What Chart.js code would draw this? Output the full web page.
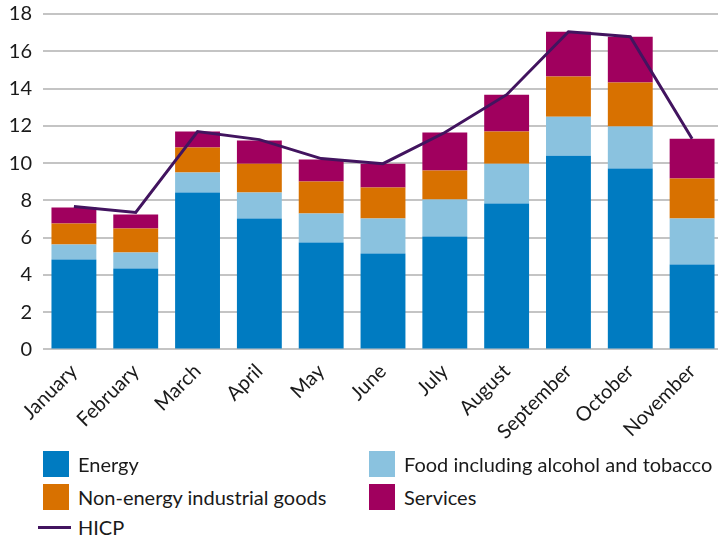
<!DOCTYPE html>
<html>
<head>
<meta charset="utf-8">
<script src="https://cdn.jsdelivr.net/npm/chart.js@4.4.0/dist/chart.umd.min.js"></script>
<style>
    html, body { margin: 0; padding: 0; background: #fff; overflow: hidden; }
    #wrap { position: absolute; left: 0; top: -9px; width: 723px; height: 463px; }
    #legend { position: absolute; left: 0; top: 451px; width: 718px; font-family: Lato, sans-serif; font-size: 20px; color: #1a1a1a; }
    .item { position: absolute; height: 26px; line-height: 26px; white-space: nowrap; }
    .box { position: absolute; left: 0; top: 0; width: 26px; height: 26px; }
    .ln { position: absolute; left: -5px; top: 12px; width: 33px; height: 3px; }
    .lbl { position: absolute; left: 35px; top: 0; }
</style>
</head>
<body>
<div id="wrap"><canvas id="chart"></canvas></div>
<div id="legend"></div>
<script>
    const months = ['January', 'February', 'March', 'April', 'May', 'June', 'July', 'August', 'September', 'October', 'November'];
    const energy = [4.83, 4.34, 8.42, 7.02, 5.74, 5.15, 6.06, 7.83, 10.40, 9.71, 4.56];
    const food = [0.80, 0.86, 1.07, 1.40, 1.55, 1.87, 1.98, 2.14, 2.09, 2.25, 2.46];
    const industrial = [1.13, 1.29, 1.34, 1.55, 1.72, 1.67, 1.56, 1.72, 2.15, 2.36, 2.15];
    const services = [0.85, 0.75, 0.86, 1.24, 1.18, 1.28, 2.04, 1.98, 2.41, 2.46, 2.14];
    const hicp = [7.67, 7.35, 11.69, 11.26, 10.24, 9.97, 11.64, 13.67, 17.05, 16.78, 11.31];
    const yTicks = [0, 2, 4, 6, 8, 10, 12, 14, 16, 18];

    const font = 'Lato, sans-serif';

    function barSet(label, data, color) {
        return {type: 'bar', label: label, data: data, backgroundColor: color, stack: 'hicp-parts', order: 1};
    }

    let chart = new Chart(document.getElementById('chart'), {
        type: 'bar',
        data: {
            labels: months,
            datasets: [
                {type: 'line', label: 'HICP', data: hicp, borderColor: '#42145f', borderWidth: 3, pointRadius: 0, tension: 0, stack: 'line', order: 0},
                barSet('Energy', energy, '#007bc1'),
                barSet('Food including alcohol and tobacco', food, '#8ac2df'),
                barSet('Non-energy industrial goods', industrial, '#d87100'),
                barSet('Services', services, '#a0005e')
            ]
        },
        options: {
            responsive: true,
            maintainAspectRatio: false,
            animation: false,
            layout: {padding: {top: 0, left: 0, right: 0, bottom: 0}},
            plugins: {legend: {display: false}, tooltip: {enabled: false}},
            datasets: {bar: {categoryPercentage: 1, barPercentage: 0.726}},
            scales: {
                x: {
                    stacked: true,
                    grid: {display: false, drawTicks: false},
                    border: {display: false},
                    ticks: {minRotation: 45, maxRotation: 45, color: '#1a1a1a', font: {family: font, size: 20}, padding: 10}
                },
                y: {
                    stacked: true,
                    min: 0,
                    max: 18,
                    afterBuildTicks: function (scale) {
                        scale.ticks = yTicks.map(v => ({value: v}));
                    },
                    afterFit: function (scale) {
                        scale.width = 43;
                    },
                    grid: {color: '#c4c4c4', lineWidth: 2, drawTicks: false},
                    border: {display: false},
                    ticks: {color: '#1a1a1a', font: {family: font, size: 20}, padding: 11}
                }
            }
        }
    });

    // legend: two columns of boxes, then the line
    let legend = document.getElementById('legend');
    let spots = [[43, 0], [369, 0], [43, 33], [369, 33], [43, 63]];
    let order = [1, 2, 3, 4, 0];
    order.forEach(function (idx, i) {
        let ds = chart.data.datasets[idx];
        let item = document.createElement('div');
        item.className = 'item';
        item.style.left = spots[i][0] + 'px';
        item.style.top = spots[i][1] + 'px';
        let mark = document.createElement('div');
        if (ds.type === 'line') {
            mark.className = 'ln';
            mark.style.background = ds.borderColor;
        } else {
            mark.className = 'box';
            mark.style.background = ds.backgroundColor;
        }
        let text = document.createElement('div');
        text.className = 'lbl';
        text.textContent = ds.label;
        item.appendChild(mark);
        item.appendChild(text);
        legend.appendChild(item);
    });
</script>
</body>
</html>
